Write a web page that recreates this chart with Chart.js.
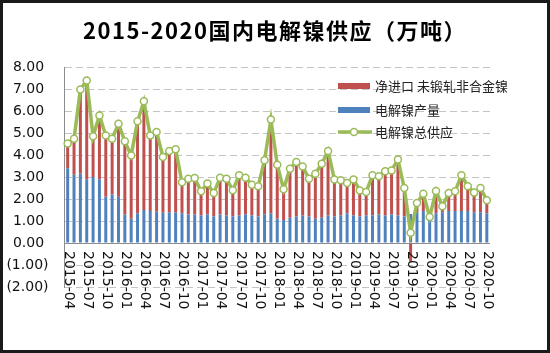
<!DOCTYPE html>
<html><head><meta charset="utf-8">
<script src="https://cdn.jsdelivr.net/npm/chart.js@4"></script>
<style>html,body{margin:0;padding:0;background:#fff;overflow:hidden}#c{display:block}</style>
</head><body>
<canvas id="c" width="550" height="353"></canvas>
<script>
const chartTitle = '2015-2020国内电解镍供应（万吨）';
const seriesNames = ['净进口 未锻轧非合金镍', '电解镍产量', '电解镍总供应'];
const months = [
  '2015-04','2015-05','2015-06','2015-07','2015-08','2015-09','2015-10','2015-11','2015-12',
  '2016-01','2016-02','2016-03','2016-04','2016-05','2016-06','2016-07','2016-08','2016-09','2016-10','2016-11','2016-12',
  '2017-01','2017-02','2017-03','2017-04','2017-05','2017-06','2017-07','2017-08','2017-09','2017-10','2017-11','2017-12',
  '2018-01','2018-02','2018-03','2018-04','2018-05','2018-06','2018-07','2018-08','2018-09','2018-10','2018-11','2018-12',
  '2019-01','2019-02','2019-03','2019-04','2019-05','2019-06','2019-07','2019-08','2019-09','2019-10','2019-11','2019-12',
  '2020-01','2020-02','2020-03','2020-04','2020-05','2020-06','2020-07','2020-08','2020-09','2020-10'
];
const netImport = [
  1.12,1.64,3.83,4.49,1.85,2.90,2.79,2.54,3.32,
  3.32,2.88,4.18,4.94,3.44,3.63,2.53,2.78,2.86,1.41,1.62,1.65,
  1.10,1.40,1.07,1.67,1.67,1.20,1.83,1.67,1.40,1.38,2.46,4.26,
  2.46,1.39,2.23,2.48,2.23,1.72,2.05,2.45,2.93,1.69,1.60,1.38,
  1.64,1.19,1.07,1.83,1.73,2.01,2.00,2.55,1.30,-0.85,0.42,0.79,
  0.03,1.01,0.27,0.82,0.90,1.63,1.13,0.89,1.10,0.59
];
const production = [
  3.40,3.10,3.15,2.90,3.00,2.90,2.10,2.20,2.10,
  1.30,1.10,1.35,1.50,1.45,1.42,1.38,1.40,1.40,1.35,1.30,1.30,
  1.25,1.30,1.20,1.30,1.25,1.20,1.25,1.30,1.25,1.20,1.30,1.35,
  1.10,1.05,1.15,1.20,1.25,1.20,1.10,1.15,1.25,1.20,1.25,1.35,
  1.25,1.20,1.25,1.25,1.30,1.25,1.30,1.25,1.20,1.32,1.40,1.45,
  1.15,1.35,1.40,1.45,1.45,1.45,1.45,1.40,1.40,1.35
];
const totalSupply = [
  4.52,4.74,6.98,7.39,4.85,5.80,4.89,4.74,5.42,
  4.62,3.98,5.53,6.44,4.89,5.05,3.91,4.18,4.26,2.76,2.92,2.95,
  2.35,2.70,2.27,2.97,2.92,2.40,3.08,2.97,2.65,2.58,3.76,5.61,
  3.56,2.44,3.38,3.68,3.48,2.92,3.15,3.60,4.18,2.89,2.85,2.73,
  2.89,2.39,2.32,3.08,3.03,3.26,3.30,3.80,2.50,0.47,1.82,2.24,
  1.18,2.36,1.67,2.27,2.35,3.08,2.58,2.29,2.50,1.94
];
const xTickLabels = [
  '2015-04','2015-07','2015-10','2016-01','2016-04','2016-07','2016-10',
  '2017-01','2017-04','2017-07','2017-10','2018-01','2018-04','2018-07','2018-10',
  '2019-01','2019-04','2019-07','2019-10','2020-01','2020-04','2020-07','2020-10'
];
const yMin = -2, yMax = 8, yStep = 1;

const RED = '#C0504D', BLUE = '#4F81BD', GREEN = '#9BBB59';

const custom = {
  id: 'custom',
  beforeDraw(chart) {
    const ctx = chart.ctx;
    ctx.save();
    ctx.fillStyle = '#fff';
    ctx.fillRect(0, 0, chart.width, chart.height);
    ctx.restore();
  },
  beforeDatasetsDraw(chart) {
    const ctx = chart.ctx, a = chart.chartArea, ys = chart.scales.y;
    const y0 = Math.round(ys.getPixelForValue(0)) + 0.5;
    ctx.save();
    ctx.strokeStyle = '#8c8c8c';
    ctx.lineWidth = 1;
    ctx.beginPath();
    ctx.moveTo(a.left, y0);
    ctx.lineTo(a.right, y0);
    ctx.stroke();
    ctx.restore();
  },
  afterDraw(chart) {
    const ctx = chart.ctx, xs = chart.scales.x, ys = chart.scales.y;
    ctx.save();
    // title
    ctx.fillStyle = '#000';
    ctx.font = 'bold 22px "Noto Sans CJK SC"';
    ctx.textAlign = 'center';
    ctx.textBaseline = 'middle';
    try { ctx.letterSpacing = '1.5px'; } catch (e) {}
    ctx.fillText(chartTitle, 275, 31);
    try { ctx.letterSpacing = '0px'; } catch (e) {}
    // x labels (rotated, next to zero line)
    const y0 = ys.getPixelForValue(0);
    ctx.font = '14px "DejaVu Sans"';
    ctx.fillStyle = '#111';
    ctx.textAlign = 'left';
    ctx.textBaseline = 'middle';
    xTickLabels.forEach(lab => {
      const idx = months.indexOf(lab);
      const x = xs.getPixelForValue(idx);
      ctx.save();
      ctx.translate(x + 1, y0 + 8);
      ctx.rotate(Math.PI / 2);
      ctx.fillText(lab, 0, 0);
      ctx.restore();
    });
    // legend
    const lx = 338, rows = [86, 110, 132];
    ctx.fillStyle = RED;
    ctx.fillRect(lx, rows[0] - 3, 32, 6);
    ctx.fillStyle = BLUE;
    ctx.fillRect(lx, rows[1] - 3, 32, 6);
    ctx.strokeStyle = GREEN;
    ctx.lineWidth = 3.5;
    ctx.beginPath();
    ctx.moveTo(lx, rows[2]);
    ctx.lineTo(lx + 34, rows[2]);
    ctx.stroke();
    ctx.beginPath();
    ctx.arc(lx + 16, rows[2], 3.5, 0, Math.PI * 2);
    ctx.fillStyle = '#fff';
    ctx.fill();
    ctx.lineWidth = 1.5;
    ctx.stroke();
    ctx.fillStyle = '#222';
    ctx.font = '13px "Noto Sans CJK SC"';
    ctx.textAlign = 'left';
    ctx.textBaseline = 'middle';
    seriesNames.forEach((n, i) => ctx.fillText(n, 375, rows[i]));
    // frame
    ctx.strokeStyle = '#1a1a1a';
    ctx.lineWidth = 3;
    ctx.strokeRect(1.5, 1.5, chart.width - 3, chart.height - 3);
    ctx.restore();
  }
};

new Chart(document.getElementById('c'), {
  type: 'bar',
  data: {
    labels: months,
    datasets: [
      {
        type: 'line', label: seriesNames[2], data: totalSupply, stack: 'total', order: 0,
        borderColor: GREEN, borderWidth: 3.5, tension: 0,
        pointRadius: 3.5, pointBackgroundColor: '#fff', pointBorderColor: GREEN, pointBorderWidth: 1.5
      },
      {
        label: seriesNames[1], data: production, backgroundColor: BLUE, stack: 'bars', order: 1,
        barPercentage: 0.47, categoryPercentage: 1
      },
      {
        label: seriesNames[0], data: netImport, backgroundColor: RED, stack: 'bars', order: 2,
        barPercentage: 0.47, categoryPercentage: 1
      }
    ]
  },
  options: {
    responsive: false,
    animation: false,
    devicePixelRatio: 1,
    layout: { padding: { left: 0, right: 60, top: 67, bottom: 66 } },
    plugins: { legend: { display: false }, tooltip: { enabled: false }, title: { display: false } },
    scales: {
      x: { display: false, stacked: true },
      y: {
        stacked: true, min: yMin, max: yMax,
        afterFit(s) { s.width = 64.5; },
        ticks: {
          stepSize: yStep, padding: 16, color: '#111',
          font: { family: 'DejaVu Sans', size: 14 },
          callback: v => v < 0 ? '(' + Math.abs(v).toFixed(2) + ')' : v.toFixed(2) + ' '
        },
        grid: {
          drawTicks: false,
          color: c => (c.tick && c.tick.value === 0) ? 'rgba(0,0,0,0)' : '#c4c4c4',
          lineWidth: 1
        },
        border: { display: true, color: '#8c8c8c', width: 1, dash: [7, 4] }
      }
    }
  },
  plugins: [custom]
});
</script>
</body></html>
